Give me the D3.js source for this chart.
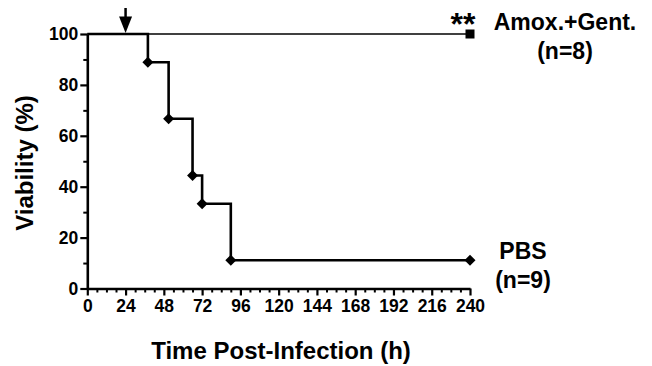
<!DOCTYPE html>
<html><head><meta charset="utf-8">
<script src="https://cdn.jsdelivr.net/npm/d3@7"></script>
<style>
body{margin:0;background:#fff}
svg{display:block}
text{font-family:"Liberation Sans",Arial,Helvetica,sans-serif;font-weight:bold;fill:#000}
</style>
</head><body>
<svg id="c" width="652" height="366"></svg>
<script>
// ---- data ----
const pbsTimes = [0, 38, 51, 66, 72, 90, 240];
const pbsViability = [100, 88.9, 66.7, 44.4, 33.3, 11.1, 11.1];
const amoxTimes = [0, 240];
const amoxViability = [100, 100];
const xTicks = [0, 24, 48, 72, 96, 120, 144, 168, 192, 216, 240];
const yTicks = [0, 20, 40, 60, 80, 100];
const treatmentTime = 24;
const amoxLabel = ["Amox.+Gent.", "(n=8)"];
const pbsLabel = ["PBS", "(n=9)"];
const significance = "**";
const xTitle = "Time Post-Infection (h)";
const yTitle = "Viability (%)";

// ---- layout ----
const svg = d3.select("#c");
const x = d3.scaleLinear().domain([0, 240]).range([87.3, 470]);
const y = d3.scaleLinear().domain([0, 100]).range([288.5, 34]);

const xMinor = d3.range(0, 241, 6).filter(v => !xTicks.includes(v));
const yMinor = d3.range(0, 101, 10).filter(v => !yTicks.includes(v));

// minor ticks
svg.append("g").attr("transform", `translate(0,${y(0)})`)
  .call(d3.axisBottom(x).tickValues(xMinor).tickSize(4).tickFormat(""))
  .call(g => { g.select(".domain").remove(); g.selectAll("line").attr("stroke-width", 2); });
svg.append("g").attr("transform", `translate(${x(0)},0)`)
  .call(d3.axisLeft(y).tickValues(yMinor).tickSize(4).tickFormat(""))
  .call(g => { g.select(".domain").remove(); g.selectAll("line").attr("stroke-width", 2); });

// major axes
const xa = svg.append("g").attr("transform", `translate(0,${y(0)})`)
  .call(d3.axisBottom(x).tickValues(xTicks).tickSize(7).tickSizeOuter(0).tickPadding(4));
xa.select(".domain").attr("stroke-width", 2.6);
xa.selectAll("line").attr("stroke-width", 2.2);
xa.selectAll("text").attr("font-size", 17.5).attr("font-family", null);

const ya = svg.append("g").attr("transform", `translate(${x(0)},0)`)
  .call(d3.axisLeft(y).tickValues(yTicks).tickSize(7).tickSizeOuter(0).tickPadding(2));
ya.select(".domain").attr("stroke-width", 2.6);
ya.selectAll("line").attr("stroke-width", 2.2);
ya.selectAll("text").attr("font-size", 17.5).attr("font-family", null);

// Amox line (thin)
const line = d3.line().curve(d3.curveStepAfter);
svg.append("path")
  .attr("d", line(amoxTimes.map((t, i) => [x(t), y(amoxViability[i])])))
  .attr("fill", "none").attr("stroke", "#000").attr("stroke-width", 1.4);

// PBS line (thick)
svg.append("path")
  .attr("d", line(pbsTimes.map((t, i) => [x(t), y(pbsViability[i])])))
  .attr("fill", "none").attr("stroke", "#000").attr("stroke-width", 2.6);

// PBS diamonds
const dsz = 5.5;
svg.append("g").selectAll("path")
  .data(pbsTimes.map((t, i) => [t, pbsViability[i]]).slice(1))
  .join("path")
  .attr("transform", d => `translate(${x(d[0])},${y(d[1])})`)
  .attr("d", `M0,${-dsz}L${dsz},0L0,${dsz}L${-dsz},0Z`)
  .attr("fill", "#000");

// Amox square at end
const last = amoxTimes.length - 1;
svg.append("rect")
  .attr("x", x(amoxTimes[last]) - 4.5).attr("y", y(amoxViability[last]) - 4.5)
  .attr("width", 9).attr("height", 9).attr("fill", "#000");

// treatment arrow
const ax = x(treatmentTime);
svg.append("line").attr("x1", ax).attr("x2", ax).attr("y1", 8).attr("y2", 18)
  .attr("stroke", "#000").attr("stroke-width", 2.5);
svg.append("path").attr("d", `M${ax - 6.5},16.5L${ax + 6.5},16.5L${ax},${y(100) - 1}Z`).attr("fill", "#000");

// significance
svg.append("text").attr("x", x(240) - 7).attr("y", 35).attr("text-anchor", "middle")
  .attr("font-size", 32).text(significance);

// series labels
function label(lines, cx, by, lh, fs) {
  const t = svg.append("text").attr("text-anchor", "middle").attr("font-size", fs);
  lines.forEach((s, i) => t.append("tspan").attr("x", cx).attr("y", by + i * lh).text(s));
}
label(amoxLabel, 565, 30, 29, 23);
label(pbsLabel, 523, 259, 29, 23);

// axis titles
svg.append("text").attr("x", 281).attr("y", 359).attr("text-anchor", "middle")
  .attr("font-size", 24).text(xTitle);
svg.append("text").attr("transform", "translate(33,163) rotate(-90)")
  .attr("text-anchor", "middle").attr("font-size", 24).text(yTitle);
</script>
</body></html>
